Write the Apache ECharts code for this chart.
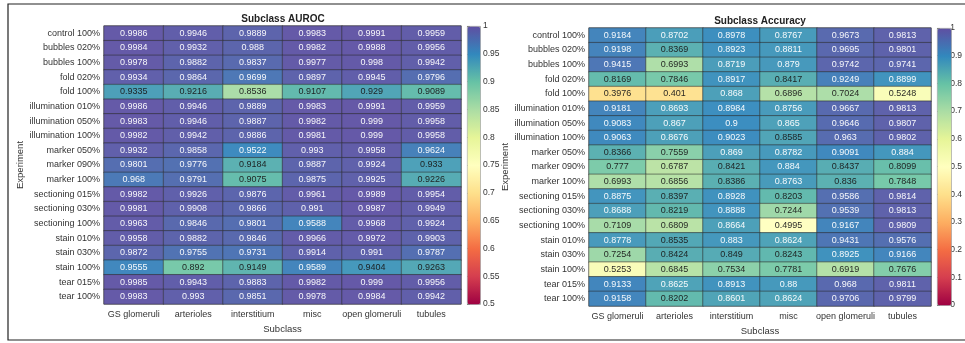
<!DOCTYPE html>
<html>
<head>
<meta charset="utf-8">
<script src="https://cdn.jsdelivr.net/npm/echarts@6/dist/echarts.min.js"></script>
<style>
  html, body { margin: 0; padding: 0; background: #fff; }
  #chart { width: 965px; height: 343px; }
</style>
</head>
<body>
<div id="chart"></div>
<script>
const experiments = [
  'control 100%', 'bubbles 020%', 'bubbles 100%', 'fold 020%', 'fold 100%',
  'illumination 010%', 'illumination 050%', 'illumination 100%',
  'marker 050%', 'marker 090%', 'marker 100%',
  'sectioning 015%', 'sectioning 030%', 'sectioning 100%',
  'stain 010%', 'stain 030%', 'stain 100%', 'tear 015%', 'tear 100%'
];
const subclasses = ['GS glomeruli', 'arterioles', 'interstitium', 'misc', 'open glomeruli', 'tubules'];

// one row per experiment, columns follow subclasses
const aurocValues = [
  [0.9986, 0.9946, 0.9889, 0.9983, 0.9991, 0.9959],
  [0.9984, 0.9932, 0.988, 0.9982, 0.9988, 0.9956],
  [0.9978, 0.9882, 0.9837, 0.9977, 0.998, 0.9942],
  [0.9934, 0.9864, 0.9699, 0.9897, 0.9945, 0.9796],
  [0.9335, 0.9216, 0.8536, 0.9107, 0.929, 0.9089],
  [0.9986, 0.9946, 0.9889, 0.9983, 0.9991, 0.9959],
  [0.9983, 0.9946, 0.9887, 0.9982, 0.999, 0.9958],
  [0.9982, 0.9942, 0.9886, 0.9981, 0.999, 0.9958],
  [0.9932, 0.9858, 0.9522, 0.993, 0.9958, 0.9624],
  [0.9801, 0.9776, 0.9184, 0.9887, 0.9924, 0.933],
  [0.968, 0.9791, 0.9075, 0.9875, 0.9925, 0.9226],
  [0.9982, 0.9926, 0.9876, 0.9961, 0.9989, 0.9954],
  [0.9981, 0.9908, 0.9866, 0.991, 0.9987, 0.9949],
  [0.9963, 0.9846, 0.9801, 0.9588, 0.9968, 0.9924],
  [0.9958, 0.9882, 0.9846, 0.9966, 0.9972, 0.9903],
  [0.9872, 0.9755, 0.9731, 0.9914, 0.991, 0.9787],
  [0.9555, 0.892, 0.9149, 0.9589, 0.9404, 0.9263],
  [0.9985, 0.9943, 0.9883, 0.9982, 0.999, 0.9956],
  [0.9983, 0.993, 0.9851, 0.9978, 0.9984, 0.9942]
];
const accuracyValues = [
  [0.9184, 0.8702, 0.8978, 0.8767, 0.9673, 0.9813],
  [0.9198, 0.8369, 0.8923, 0.8811, 0.9695, 0.9801],
  [0.9415, 0.6993, 0.8719, 0.879, 0.9742, 0.9741],
  [0.8169, 0.7846, 0.8917, 0.8417, 0.9249, 0.8899],
  [0.3976, 0.401, 0.868, 0.6896, 0.7024, 0.5248],
  [0.9181, 0.8693, 0.8984, 0.8756, 0.9667, 0.9813],
  [0.9083, 0.867, 0.9, 0.865, 0.9646, 0.9807],
  [0.9063, 0.8676, 0.9023, 0.8585, 0.963, 0.9802],
  [0.8366, 0.7559, 0.869, 0.8782, 0.9091, 0.884],
  [0.777, 0.6787, 0.8421, 0.884, 0.8437, 0.8099],
  [0.6993, 0.6856, 0.8386, 0.8763, 0.836, 0.7848],
  [0.8875, 0.8397, 0.8928, 0.8203, 0.9586, 0.9814],
  [0.8688, 0.8219, 0.8888, 0.7244, 0.9539, 0.9813],
  [0.7109, 0.6809, 0.8664, 0.4995, 0.9167, 0.9809],
  [0.8778, 0.8535, 0.883, 0.8624, 0.9431, 0.9576],
  [0.7254, 0.8424, 0.849, 0.8243, 0.8925, 0.9166],
  [0.5253, 0.6845, 0.7534, 0.7781, 0.6919, 0.7676],
  [0.9133, 0.8625, 0.8913, 0.88, 0.968, 0.9811],
  [0.9158, 0.8202, 0.8601, 0.8624, 0.9706, 0.9799]
];

// colour bar scales: [min, max, tick step]
const aurocScale = [0.5, 1, 0.05];
const accuracyScale = [0, 1, 0.1];

const spectral = ['#9e0142', '#d53e4f', '#f46d43', '#fdae61', '#fee08b', '#ffffbf',
                  '#e6f598', '#abdda4', '#66c2a5', '#3288bd', '#5e4fa2'];
const FONT = '"Liberation Sans", Arial, Helvetica, sans-serif';

// dark cells get white text, light ones dark text
function cells(values, whiteFrom) {
  const out = [];
  values.forEach((row, r) => row.forEach((v, c) => {
    out.push({ value: [c, r, v], label: { color: v >= whiteFrom ? '#ffffff' : '#1a1a1a' } });
  }));
  return out;
}

const grids = [
  { left: 104, top: 26, width: 357, height: 278 },
  { left: 589, top: 28, width: 342, height: 278 },
  { left: 467, top: 26, width: 13, height: 278 },
  { left: 937, top: 28, width: 14, height: 277 }
];

function heatAxes(i, titleGap) {
  return {
    x: {
      gridIndex: i, type: 'category', data: subclasses, position: 'bottom',
      name: 'Subclass', nameLocation: 'middle', nameGap: 20,
      nameTextStyle: { fontSize: 9.5, color: '#333', fontFamily: FONT },
      axisLine: { show: false }, axisTick: { show: false }, splitLine: { show: false },
      axisLabel: { interval: 0, fontSize: 9, color: '#333', fontFamily: FONT, margin: 6 }
    },
    y: {
      gridIndex: i, type: 'category', data: experiments, inverse: true,
      name: 'Experiment', nameLocation: 'middle', nameGap: titleGap, nameRotate: 90,
      nameTextStyle: { fontSize: 9.5, color: '#333', fontFamily: FONT },
      axisLine: { show: false }, axisTick: { show: false }, splitLine: { show: false },
      axisLabel: { interval: 0, fontSize: 9, color: '#333', fontFamily: FONT, margin: 4 }
    }
  };
}

function barAxes(i, scale) {
  return {
    x: { gridIndex: i, type: 'value', show: false, min: 0, max: 1 },
    y: {
      gridIndex: i, type: 'value', position: 'right',
      min: scale[0], max: scale[1], interval: scale[2],
      axisLine: { show: false }, splitLine: { show: false },
      axisTick: { show: true, length: 3, lineStyle: { color: '#555', width: 0.8 } },
      axisLabel: { fontSize: 8.5, color: '#333', fontFamily: FONT, margin: 3 }
    }
  };
}

const hA = heatAxes(0, 73), hB = heatAxes(1, 67);
const bA = barAxes(2, aurocScale), bB = barAxes(3, accuracyScale);

const heatSeries = (idx, values, whiteFrom) => ({
  type: 'heatmap', xAxisIndex: idx, yAxisIndex: idx,
  data: cells(values, whiteFrom),
  label: { show: true, fontSize: 9, fontFamily: FONT, formatter: p => String(p.value[2]) },
  itemStyle: { borderColor: 'rgba(50,50,50,0.75)', borderWidth: 0.8, opacity: 0.95 },
  emphasis: { disabled: true }
});

const chart = echarts.init(document.getElementById('chart'), null, { renderer: 'canvas' });
chart.setOption({
  animation: false,
  title: [
    { text: 'Subclass AUROC', left: 283, top: 14, padding: 0, textAlign: 'center',
      textStyle: { fontSize: 10, fontWeight: 'bold', color: '#222', fontFamily: FONT } },
    { text: 'Subclass Accuracy', left: 760, top: 16, padding: 0, textAlign: 'center',
      textStyle: { fontSize: 10, fontWeight: 'bold', color: '#222', fontFamily: FONT } }
  ],
  grid: grids.map((g, i) => Object.assign({
    show: i < 2, borderColor: '#9a9a9a', borderWidth: 1, backgroundColor: 'transparent'
  }, g)),
  xAxis: [hA.x, hB.x, bA.x, bB.x],
  yAxis: [hA.y, hB.y, bA.y, bB.y],
  visualMap: [
    { type: 'continuous', seriesIndex: 0, min: aurocScale[0], max: aurocScale[1],
      calculable: false, hoverLink: false, inRange: { color: spectral },
      orient: 'vertical', left: 467, top: 26, itemWidth: 13, itemHeight: 278,
      padding: 0, borderColor: '#8a8a8a', borderWidth: 0.8, text: null },
    { type: 'continuous', seriesIndex: 1, min: accuracyScale[0], max: accuracyScale[1],
      calculable: false, hoverLink: false, inRange: { color: spectral },
      orient: 'vertical', left: 937, top: 28, itemWidth: 14, itemHeight: 277,
      padding: 0, borderColor: '#8a8a8a', borderWidth: 0.8, text: null }
  ],
  series: [
    heatSeries(0, aurocValues, 0.945),
    heatSeries(1, accuracyValues, 0.86)
  ],
  graphic: [
    { type: 'rect', silent: true, z: 100,
      shape: { x: 8, y: 4, width: 980, height: 336 },
      style: { fill: 'none', stroke: '#222', lineWidth: 1.2 } }
  ]
});
</script>
</body>
</html>
